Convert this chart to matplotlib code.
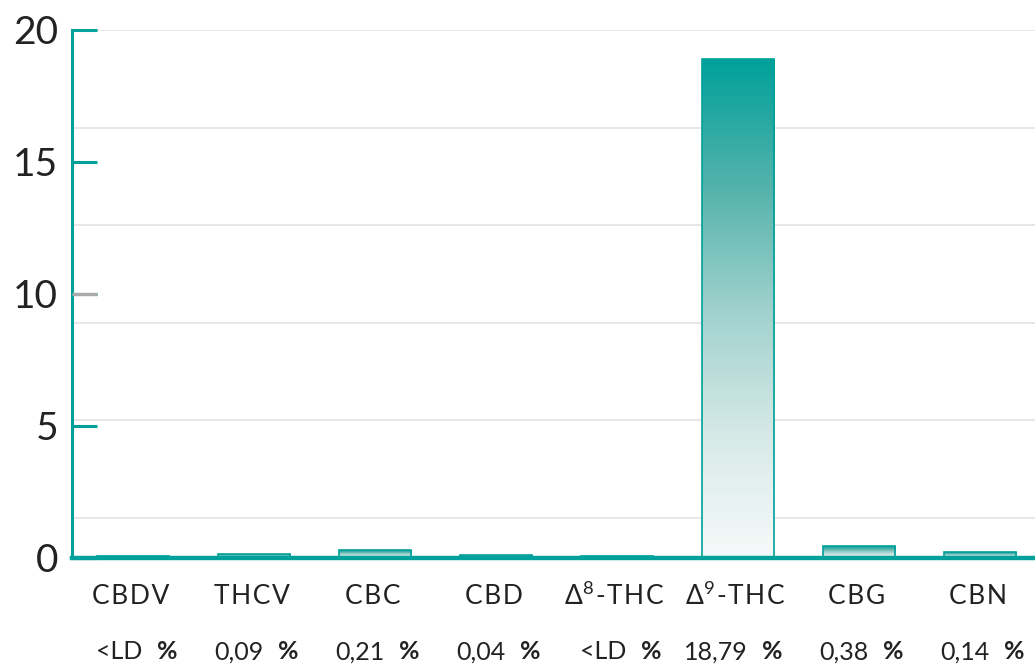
import numpy as np
import matplotlib.pyplot as plt
from matplotlib.colors import LinearSegmentedColormap
from matplotlib.patches import Rectangle

plt.rcParams["mathtext.fontset"] = "custom"
plt.rcParams["mathtext.rm"] = "Lato"
plt.rcParams["mathtext.it"] = "Lato"

# values
categories = ["CBDV", "THCV", "CBC", "CBD", "Δ$^{8}$-THC", "Δ$^{9}$-THC", "CBG", "CBN"]
heights = [0.06, 0.15, 0.30, 0.12, 0.08, 18.9, 0.45, 0.22]
value_labels = ["<LD", "0,09", "0,21", "0,04", "<LD", "18,79", "0,38", "0,14"]
yticks = [0, 5, 10, 15, 20]
grid_levels = [1.5, 5.23, 8.92, 12.6, 16.3, 20.0]

teal = "#00a19a"
fonts = ["Lato", "DejaVu Sans"]


def spaced(s):
    # slight letter spacing like the original typesetting, leave mathtext alone
    if "$" in s:
        return s.replace("-", "\u200a-\u200a").replace("THC", "T\u200aH\u200aC")
    return "\u200a".join(s)


fig = plt.figure(figsize=(10.35, 6.64), dpi=100)
ax = fig.add_axes([72 / 1035, 1 - 558 / 664, 1 - 72 / 1035, (558 - 30) / 664])

x = np.arange(len(categories))

for g in grid_levels:
    ax.axhline(g, color="#e3e3e3", lw=1.2, zorder=0)

cmap = LinearSegmentedColormap.from_list("tealfade", ["#f7fafa", "#d5e9e7", "#9fd1cd", "#52b2ab", teal])
grad = np.linspace(0, 1, 256).reshape(-1, 1)
bars = ax.bar(x, heights, width=0.6, color="none", edgecolor=teal, linewidth=1.2, zorder=3)
for b in bars:
    x0, w, h = b.get_x(), b.get_width(), b.get_height()
    im = ax.imshow(grad, extent=(x0, x0 + w, 0, h), origin="lower", cmap=cmap,
                   aspect="auto", zorder=2)
    im.set_clip_path(Rectangle((x0, 0), w, h, transform=ax.transData))
ax.set_xlim(-0.504, 7.455)
ax.set_ylim(0, 20)

for s in ["top", "right"]:
    ax.spines[s].set_visible(False)
ax.spines["left"].set_color(teal)
ax.spines["left"].set_linewidth(2.2)
ax.spines["bottom"].set_color(teal)
ax.spines["bottom"].set_linewidth(3.2)
ax.spines["bottom"].set_zorder(5)

ax.set_yticks(yticks)
ax.set_yticklabels([str(t) for t in yticks])
ax.tick_params(axis="y", direction="in", length=18, width=2.2, color=teal,
               labelsize=28, labelcolor="#222222", pad=10)
for lbl in ax.get_yticklabels():
    lbl.set_family(fonts)
# the tick at 10 is grey in the original
ax.plot([0, 25 / 963], [10, 10], color="#aaaaaa", lw=2.4, zorder=6,
        transform=ax.get_yaxis_transform(), solid_capstyle="butt")
ax.set_xticks([])

for i, (c, v) in enumerate(zip(categories, value_labels)):
    ax.text(i - 0.02, -1.45, spaced(c), ha="center", va="center", fontsize=19, color="#222222",
            family=fonts)
    ax.text(i + 0.08, -3.55, v, ha="right", va="center", fontsize=18, color="#222222",
            family=fonts)
    ax.text(i + 0.2, -3.55, "%", ha="left", va="center", fontsize=18, color="#222222",
            family=fonts, fontweight="bold")

fig.savefig("out.png", dpi=100)
